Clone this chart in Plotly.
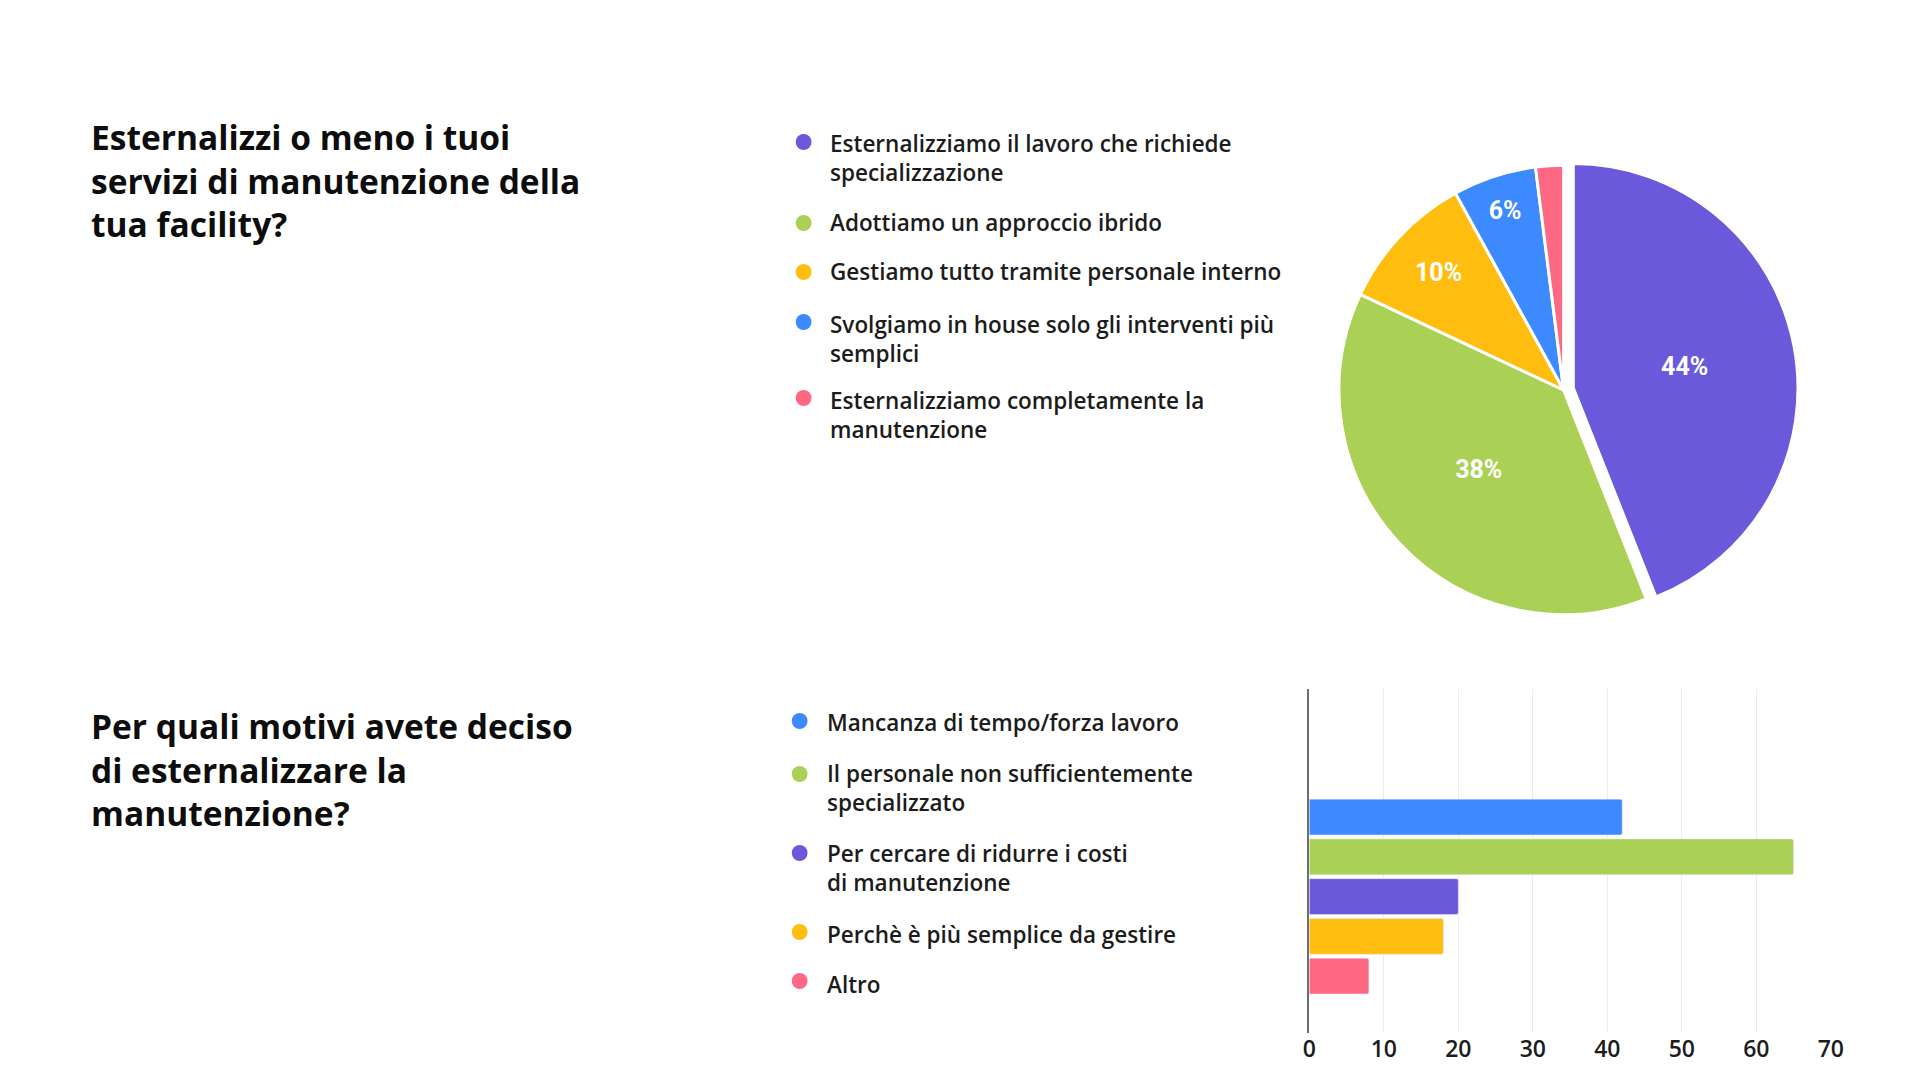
import plotly.graph_objects as go

W, H = 1920, 1080

# ---- data ----
pie_title = "Esternalizzi o meno i tuoi<br>servizi di manutenzione della<br>tua facility?"
pie_labels = [
    "Esternalizziamo il lavoro che richiede<br>specializzazione",
    "Adottiamo un approccio ibrido",
    "Gestiamo tutto tramite personale interno",
    "Svolgiamo in house solo gli interventi più<br>semplici",
    "Esternalizziamo completamente la<br>manutenzione",
]
pie_values = [44, 38, 10, 6, 2]
pie_colors = ["#6A5ADB", "#AAD155", "#FFBE0F", "#3D8AFF", "#FF6882"]

bar_title = "Per quali motivi avete deciso<br>di esternalizzare la<br>manutenzione?"
bar_labels = [
    "Mancanza di tempo/forza lavoro",
    "Il personale non sufficientemente<br>specializzato",
    "Per cercare di ridurre i costi<br>di manutenzione",
    "Perchè è più semplice da gestire",
    "Altro",
]
bar_values = [42, 65, 20, 18, 8]
bar_colors = ["#3D8AFF", "#AAD155", "#6A5ADB", "#FFBE0F", "#FF6882"]
x_ticks = [0, 10, 20, 30, 40, 50, 60, 70]

FONT = "Open Sans"
TXT = "#1c1c1c"
TITLE_FS = 33.5
LEG_FS = 22.5


def px(x):
    return x / W


def py(y):
    return 1 - y / H


fig = go.Figure()

# Pie
cx, cy, r = 1573, 390, 227
pull = 10 / r
half = r * (1 + pull)
fig.add_trace(go.Pie(
    labels=[l.replace("<br>", " ") for l in pie_labels],
    values=pie_values,
    marker=dict(colors=pie_colors, line=dict(color="white", width=3)),
    sort=False,
    direction="clockwise",
    rotation=0,
    pull=[pull, 0, 0, 0, 0],
    textinfo="percent",
    textposition=["inside", "inside", "inside", "inside", "none"],
    insidetextorientation="horizontal",
    insidetextfont=dict(family="Roboto", size=25, color="white", weight="bold"),
    domain=dict(x=[px(cx - half), px(cx + half)], y=[py(cy + half), py(cy - half)]),
    showlegend=False,
    hoverinfo="label+percent",
))

# Bars
fig.add_trace(go.Bar(
    x=bar_values,
    y=[l.replace("<br>", " ") for l in bar_labels],
    orientation="h",
    marker=dict(color=bar_colors, cornerradius=2),
    width=0.9,
    showlegend=False,
    xaxis="x", yaxis="y",
))

fig.update_layout(
    width=W, height=H,
    margin=dict(l=0, r=0, t=0, b=0),
    paper_bgcolor="white", plot_bgcolor="white",
    font=dict(family=FONT, color=TXT),
    xaxis=dict(
        domain=[px(1316), px(1843)], range=[0, 70],
        tickvals=x_ticks, ticktext=[str(t) for t in x_ticks],
        showgrid=True, gridcolor="#ececec", gridwidth=1,
        zeroline=False, showline=False, ticks="",
        tickfont=dict(family=FONT, size=23, color=TXT, weight=600),
        anchor="y", fixedrange=True,
    ),
    yaxis=dict(
        domain=[py(1033), py(689)],
        range=[5.43, -3.22],
        showticklabels=False, showgrid=False, zeroline=False,
        showline=True, linecolor="#6e6e6e", linewidth=1.5, ticks="",
        anchor="x", fixedrange=True,
    ),
)

annotations = []
shapes = []

# Titles (first-line visual centre given)
for title, c in [(pie_title, 135), (bar_title, 724)]:
    annotations.append(dict(
        text=title, x=px(83), y=py(c - 0.65 * TITLE_FS - 1), xref="paper", yref="paper",
        xanchor="left", yanchor="top", align="left", showarrow=False,
        font=dict(family=FONT, size=TITLE_FS, color="#0d0d0d", weight="bold"),
    ))


# Legends (custom, bullet + text)
def add_legend(labels, colors, dot_x, text_x, dot_ys, text_ys):
    for lab, col, dy, ty in zip(labels, colors, dot_ys, text_ys):
        d = 8
        shapes.append(dict(
            type="circle", xref="paper", yref="paper",
            x0=px(dot_x - d), x1=px(dot_x + d), y0=py(dy + d), y1=py(dy - d),
            fillcolor=col, line=dict(width=0),
        ))
        annotations.append(dict(
            text=lab, x=px(text_x), y=py(ty - 0.65 * LEG_FS - 1), xref="paper", yref="paper",
            xanchor="left", yanchor="top", align="left", showarrow=False,
            font=dict(family=FONT, size=LEG_FS, color=TXT, weight=600),
        ))


add_legend(pie_labels, pie_colors, 805, 830,
           [142, 223, 272, 322, 398], [142, 221, 270, 323, 399])
add_legend(bar_labels, bar_colors, 801, 827,
           [721, 774, 853, 932, 981], [721, 772, 852, 933, 983])

fig.update_layout(annotations=annotations, shapes=shapes)

fig.write_html("out.html")
